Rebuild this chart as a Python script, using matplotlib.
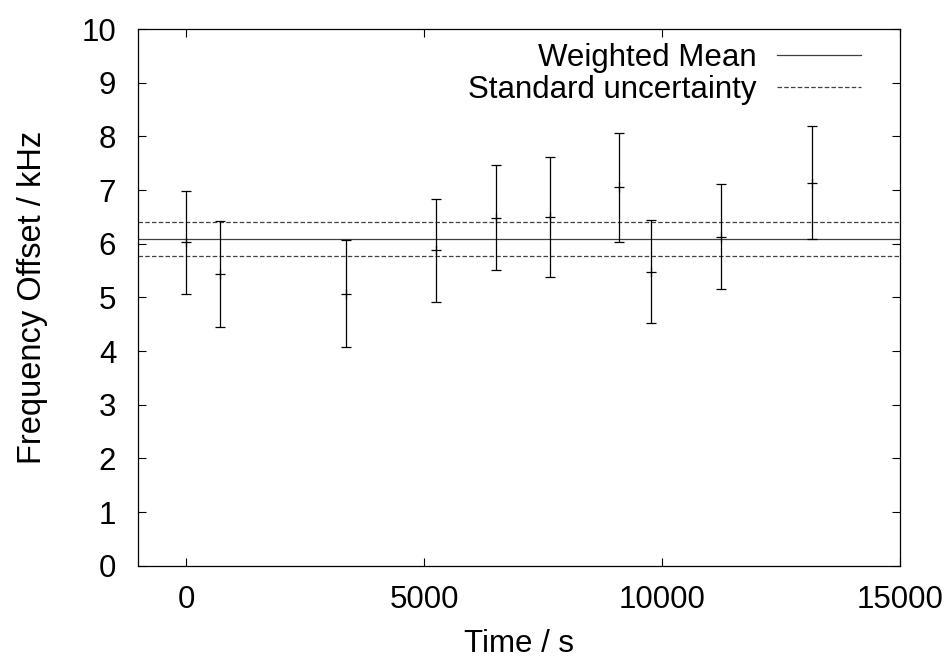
import numpy as np
import matplotlib
matplotlib.use("Agg")
import matplotlib.pyplot as plt

plt.rcParams['font.family'] = ['Liberation Sans', 'DejaVu Sans']

# measurements (time in s, frequency offset in kHz)
time_s = [0, 720, 3370, 5250, 6510, 7650, 9090, 9760, 11230, 13150]
offset = [6.03, 5.44, 5.07, 5.88, 6.48, 6.50, 7.05, 5.48, 6.13, 7.13]
err_lo = [0.97, 0.99, 0.99, 0.97, 0.97, 1.12, 1.02, 0.96, 0.97, 1.05]
err_hi = [0.96, 0.98, 0.99, 0.95, 0.98, 1.12, 1.01, 0.97, 0.99, 1.06]

mean = 6.09
sigma = 0.32

fs = 22.5

fig = plt.figure(figsize=(9.51, 6.61), dpi=100)
ax = fig.add_axes([0.1456, 0.1442, 0.8008, 0.8119])

line_col = '#404040'
ax.axhline(mean, color=line_col, lw=0.9, label='Weighted Mean')
ax.axhline(mean + sigma, color=line_col, lw=0.9, dashes=(3.6, 1.8),
           label='Standard uncertainty')
ax.axhline(mean - sigma, color=line_col, lw=0.9, dashes=(3.6, 1.8))

ax.errorbar(time_s, offset, yerr=[err_lo, err_hi], fmt='none', ecolor='black',
            elinewidth=0.9, capsize=3.5, capthick=0.9)
ax.plot(time_s, offset, '+', color='black', ms=7, mew=0.9, ls='none')

ax.set_xlim(-1000, 15000)
ax.set_ylim(0, 10)
ax.set_xticks([0, 5000, 10000, 15000])
ax.set_yticks(range(0, 11))

ax.tick_params(direction='in', length=6, width=0.8, top=True, right=True,
               labelsize=fs)
ax.tick_params(axis='x', pad=14)
ax.tick_params(axis='y', pad=16)
for s in ax.spines.values():
    s.set_linewidth(0.9)

ax.set_xlabel('Time / s', fontsize=fs, labelpad=10)
ax.set_ylabel('Frequency Offset / kHz', fontsize=23.5, labelpad=24)

leg = ax.legend(loc='upper right', bbox_to_anchor=(0.9488, 0.974),
                frameon=False, markerfirst=False,
                fontsize=fs, handlelength=2.7, handletextpad=0.65,
                labelspacing=0.06, borderaxespad=0, borderpad=0)
for t in leg.get_texts():
    t.set_ha('right')

fig.savefig('out.png', dpi=100)
